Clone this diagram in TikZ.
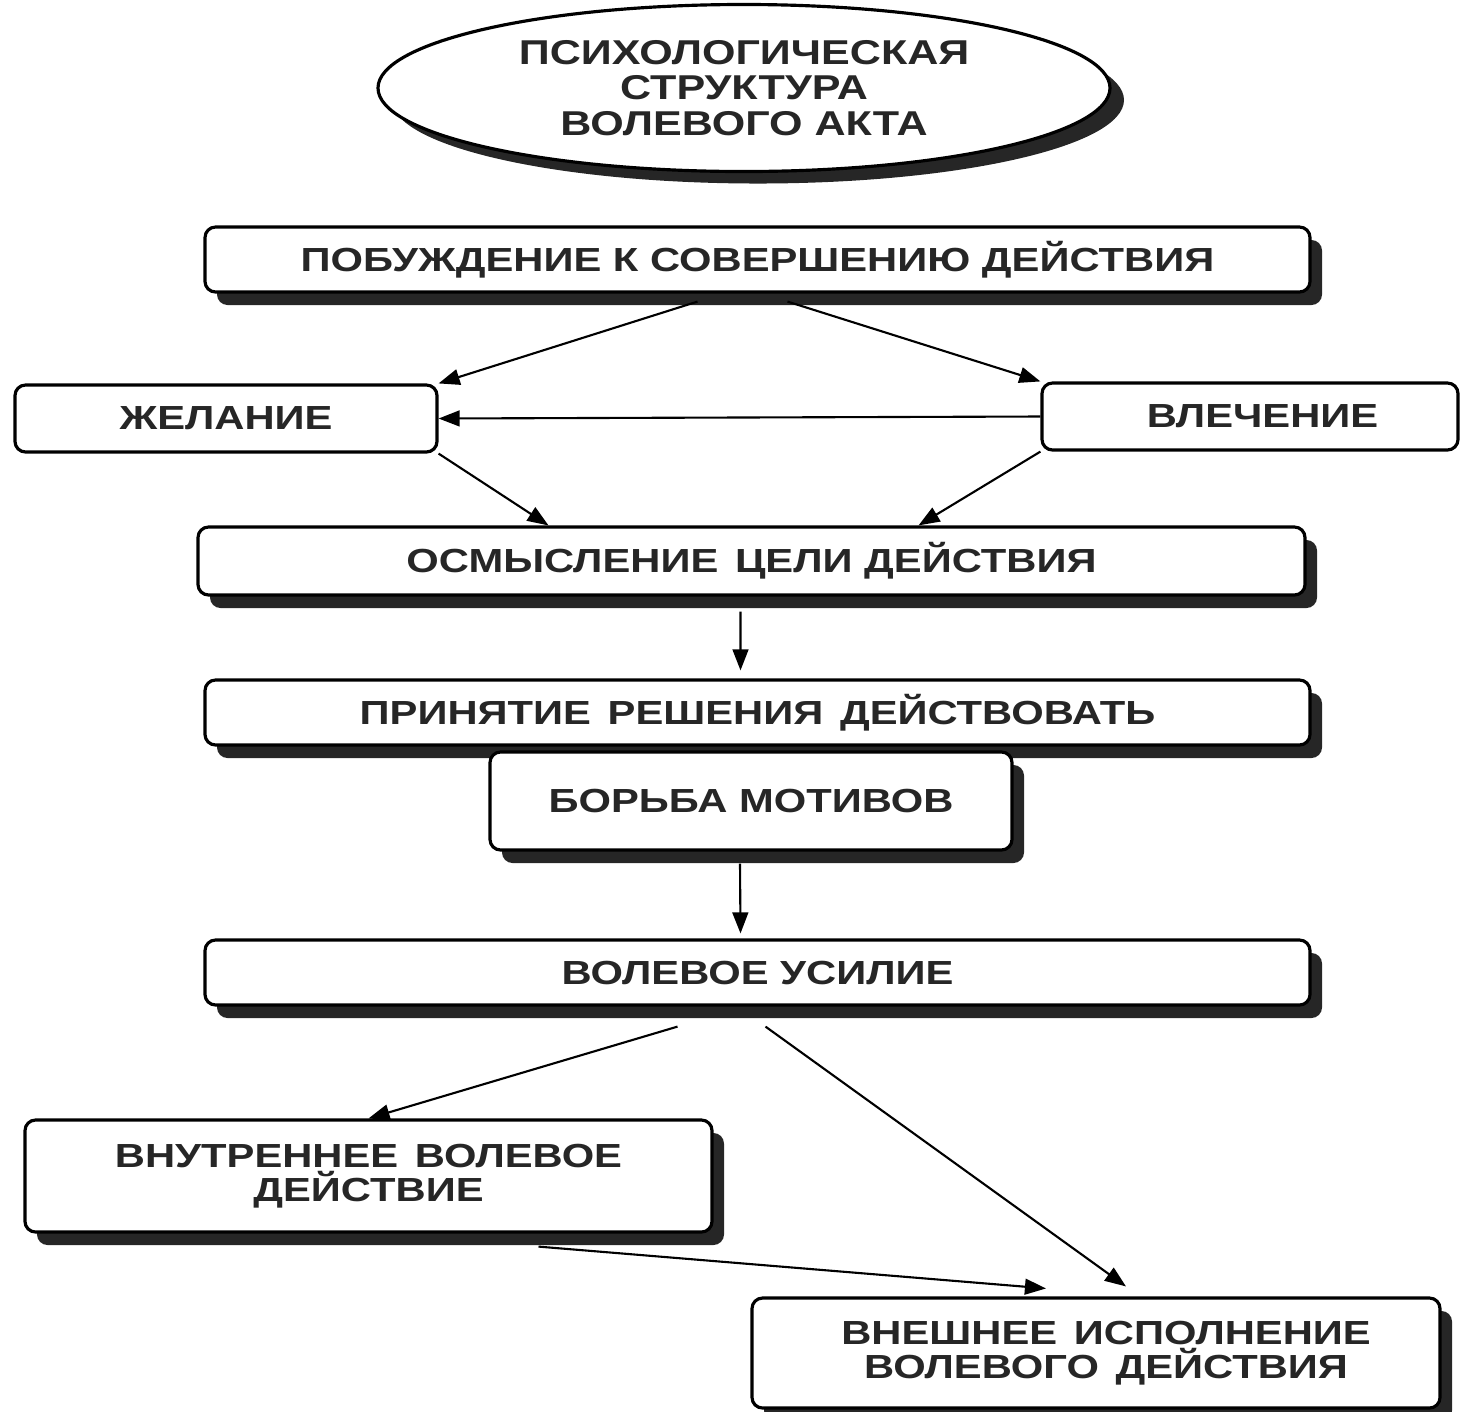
\documentclass[tikz,border=0pt]{standalone}
\usepackage{fontspec}
\setmainfont{Liberation Sans}[FakeStretch=1.25]
\usepackage{tikz}
\usetikzlibrary{shapes.geometric, arrows, shadows}
\usetikzlibrary{positioning}
\usetikzlibrary{arrows.meta}
\tikzstyle{box} = [rectangle, rounded corners=3pt, draw=black, line width=0.9pt, fill=white,
inner sep=2pt, text centered, font=\fontsize{9.5}{9.6}\selectfont\bfseries, text=black!85]
\tikzstyle{arrow} = [semithick,->,>={Stealth[inset=0pt,length=6pt,width=4.5pt]}]

\begin{document}
\begin{tikzpicture}[thick]
  \tikzstyle{shbox}=[box, drop shadow={shadow xshift=.12cm, shadow yshift=-.13cm, fill=black!85, opacity=1}]
  \useasboundingbox (0,0) rectangle (14.61,-14.11);

  \node (act) [ellipse, draw=black, line width=0.9pt, fill=white, minimum width=7.32cm, minimum height=1.53cm,
    align=center, font=\fontsize{9.8}{10}\selectfont\bfseries, text=black!85,
    drop shadow={shadow xshift=.14cm, shadow yshift=-.12cm, fill=black!85, opacity=1}]
    at (7.44,-0.88) {ПСИХОЛОГИЧЕСКАЯ\\СТРУКТУРА\\ВОЛЕВОГО АКТА};

  \node (urge) [shbox, minimum width=11.05cm, minimum height=0.65cm] at (7.575,-2.595)
    {ПОБУЖДЕНИЕ К СОВЕРШЕНИЮ ДЕЙСТВИЯ};
  \node (wish) [box, minimum width=4.22cm, minimum height=0.67cm] at (2.26,-4.185) {ЖЕЛАНИЕ};
  \node (drive) [box, minimum width=4.16cm, minimum height=0.67cm] at (12.5,-4.165)
    {\hspace{0.25cm}ВЛЕЧЕНИЕ};
  \node (aim) [shbox, minimum width=11.07cm, minimum height=0.68cm] at (7.515,-5.61)
    {ОСМЫСЛЕНИЕ\enspace ЦЕЛИ ДЕЙСТВИЯ};
  \node (decide) [shbox, minimum width=11.05cm, minimum height=0.65cm] at (7.575,-7.125)
    {ПРИНЯТИЕ\enspace РЕШЕНИЯ\enspace ДЕЙСТВОВАТЬ};
  \node (motives) [shbox, minimum width=5.22cm, minimum height=0.98cm] at (7.51,-8.01)
    {БОРЬБА МОТИВОВ};
  \node (effort) [shbox, minimum width=11.05cm, minimum height=0.65cm] at (7.575,-9.725)
    {ВОЛЕВОЕ УСИЛИЕ};
  \node (inner) [shbox, minimum width=6.87cm, minimum height=1.12cm, align=center] at (3.685,-11.76)
    {ВНУТРЕННЕЕ\enspace ВОЛЕВОЕ\\ДЕЙСТВИЕ};
  \node (outer) [shbox, minimum width=6.88cm, minimum height=1.1cm, align=center] at (10.96,-13.53)
    {\hspace{0.2cm}ВНЕШНЕЕ\enspace ИСПОЛНЕНИЕ\\\hspace{0.2cm}ВОЛЕВОГО\enspace ДЕЙСТВИЯ};

  \draw[arrow] ([xshift=-.6cm, yshift=-.08cm]urge.south) -- (wish.north east);
  \draw[arrow] ([xshift=.3cm, yshift=-.08cm]urge.south) -- (drive.north west);
  \draw[arrow] (drive.west) -- (wish.east);
  \draw[arrow] (wish.south east) -- ([xshift=-2.03cm]aim.north);
  \draw[arrow] (drive.south west) -- ([xshift=1.67cm]aim.north);

  \draw[arrow] ([xshift=-.11cm, yshift=-.15cm]aim.south) -- ([xshift=-.17cm, yshift=.08cm]decide.north);
  \draw[arrow] ([xshift=-.11cm, yshift=-.12cm]motives.south) -- ([xshift=-.17cm, yshift=.05cm]effort.north);

  \draw[arrow] ([xshift=-.8cm, yshift=-.2cm]effort.south) -- (inner.north);
  \draw[arrow] ([xshift=.08cm, yshift=-.2cm]effort.south) -- ([xshift=.3cm, yshift=.1cm]outer.north);
  \draw[arrow] ([xshift=1.7cm, yshift=-.13cm]inner.south) -- ([xshift=-.5cm, yshift=.08cm]outer.north);

\end{tikzpicture}
\end{document}
